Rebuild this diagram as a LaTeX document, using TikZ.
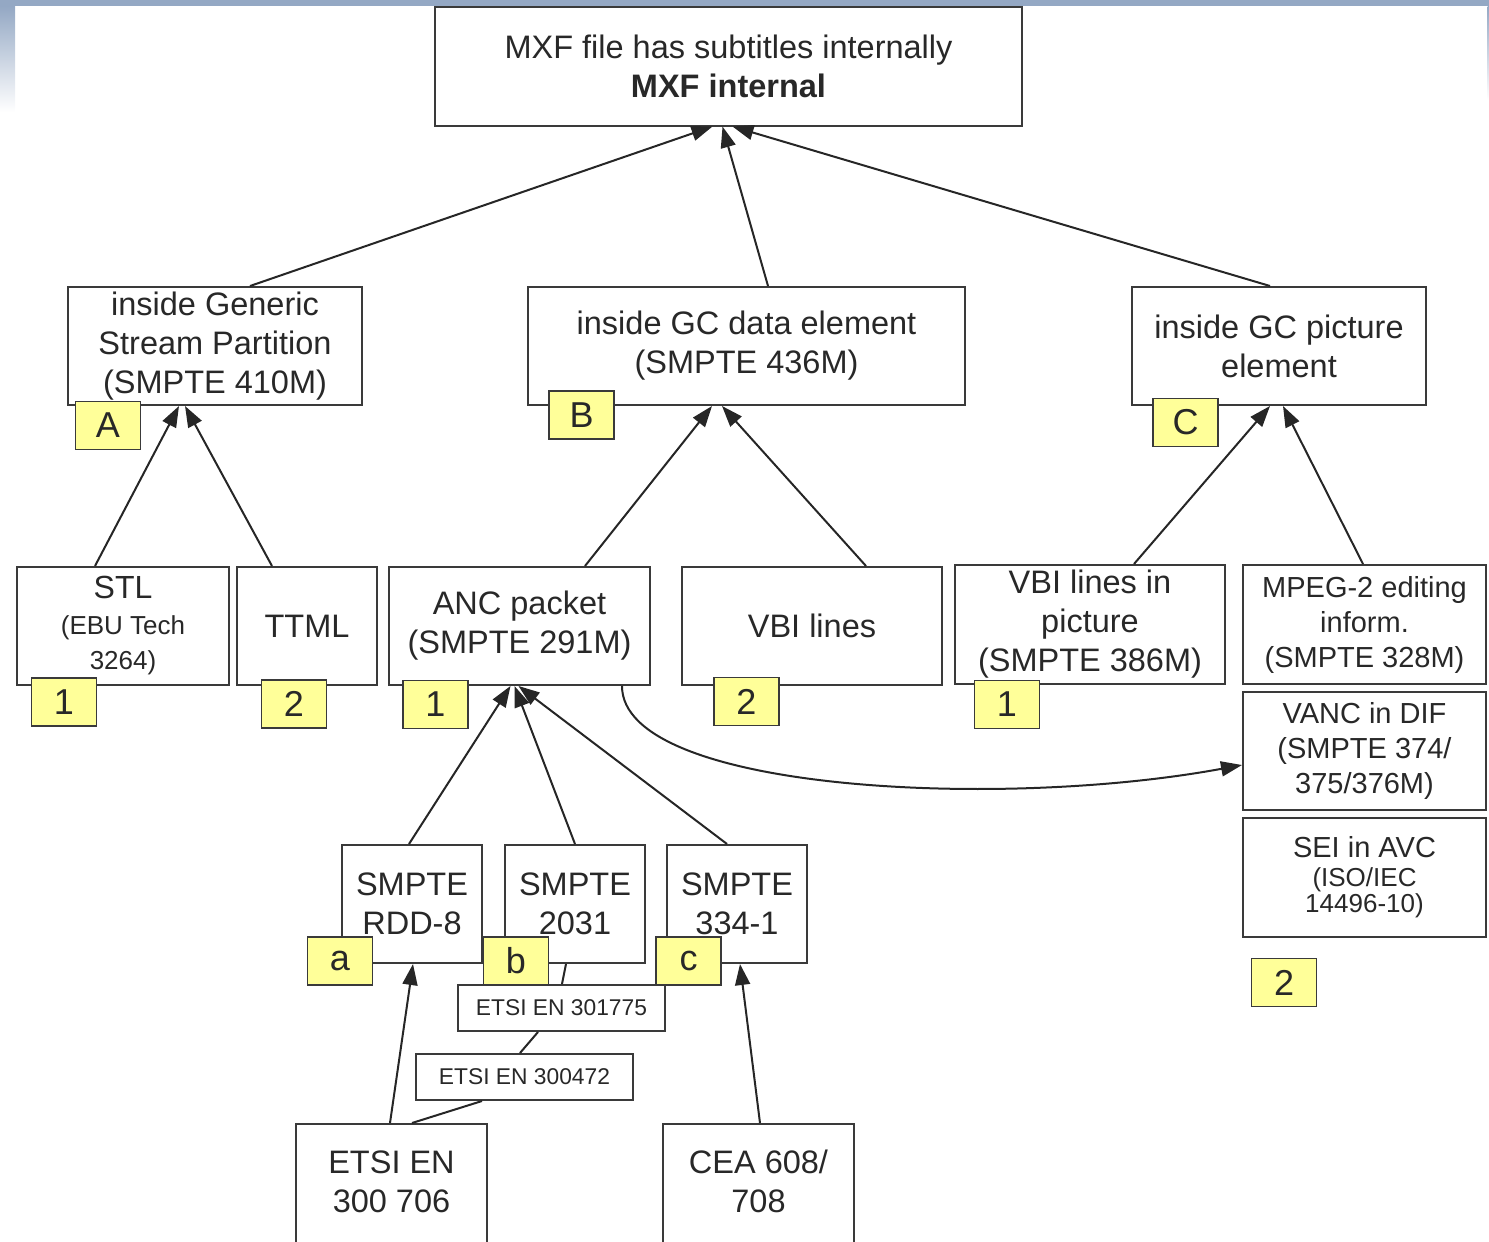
\documentclass[tikz,border=0pt]{standalone}
\usepackage{fontspec}
\setmainfont{Liberation Sans}
\usetikzlibrary{arrows.meta,calc}
\definecolor{bandc}{RGB}{148,168,196}
\definecolor{edgec}{RGB}{58,58,58}
\definecolor{txtc}{RGB}{40,40,40}
\definecolor{tagfill}{RGB}{255,255,153}
\tikzset{
  box/.style={draw=edgec, line width=2pt, fill=white, rectangle, inner sep=0pt,
    align=center, text=txtc, font=\fontsize{32.5}{39}\selectfont},
  rcol/.style={box, minimum width=243pt, font=\fontsize{29}{35}\selectfont},
  etsi/.style={box, minimum height=46pt, font=\fontsize{22.8}{26}\selectfont},
  plain/.style={inner sep=0pt, align=center, text=txtc, font=\fontsize{32.5}{39}\selectfont},
  tag/.style={draw=edgec, line width=1.8pt, fill=tagfill, rectangle, inner sep=0pt,
    minimum width=65pt, minimum height=48pt, text=txtc, font=\fontsize{36}{36}\selectfont},
  arr/.style={draw=black!85, line width=2pt, -{Triangle[length=21pt,width=15pt]}},
  link/.style={draw=black!85, line width=2pt},
}
\begin{document}
\begin{tikzpicture}[x=1pt,y=-1pt]
\useasboundingbox (0,0) rectangle (1489,1242);
\clip (0,0) rectangle (1489,1242);

% window frame
\fill[bandc] (0,0) rectangle (1489,6);
\shade[top color=bandc, bottom color=white] (0,6) rectangle (15,112);
\shade[top color=bandc, bottom color=white] (1487.5,6) rectangle (1489,100);

% root
\node[box, minimum width=587pt, minimum height=119pt] (top) at (728.5,66)
  {MXF file has subtitles internally\\\textbf{MXF internal}};

% containers
\node[box, minimum width=294pt, minimum height=118pt] (gsp) at (215,346)
  {inside Generic\\Stream Partition\\(SMPTE 410M)};
\node[box, minimum width=437pt, minimum height=118pt] (gcd) at (746.5,346)
  {inside GC data element\\(SMPTE 436M)};
\node[box, minimum width=294pt, minimum height=118pt] (gcp) at (1279,346)
  {inside GC picture\\element};

% carriage formats
\node[box, minimum width=212pt, minimum height=118pt, font=\fontsize{26}{35.5}\selectfont] (stl) at (123,626)
  {{\fontsize{32}{35}\selectfont STL}\\(EBU Tech\\3264)};
\node[box, minimum width=140pt, minimum height=118pt] (ttml) at (307,626) {TTML};
\node[box, minimum width=261pt, minimum height=118pt] (anc) at (519.5,626)
  {ANC packet\\(SMPTE 291M)};
\node[box, minimum width=260pt, minimum height=118pt] (vbi) at (812,626) {VBI lines};
\node[box, minimum width=270pt, minimum height=119pt] (vbip) at (1090,624.5)
  {VBI lines in\\picture\\(SMPTE 386M)};
\node[rcol, minimum height=119pt] (mpeg) at (1364.5,624.5)
  {MPEG-2 editing\\inform.\\(SMPTE 328M)};
\node[rcol, minimum height=118pt] (vanc) at (1364.5,751)
  {VANC in DIF\\(SMPTE 374/\\375/376M)};
\node[rcol, minimum height=119pt, font=\fontsize{26}{26}\selectfont] (sei) at (1364.5,877.5)
  {{\fontsize{29}{26}\selectfont SEI in AVC}\\[3pt](ISO/IEC\\14496-10)};

% ANC payload standards
\node[box, minimum width=140pt, minimum height=118pt] (rdd) at (412,904) {SMPTE\\RDD-8};
\node[box, minimum width=140pt, minimum height=118pt] (s2031) at (575,904) {SMPTE\\2031};
\node[box, minimum width=140pt, minimum height=118pt] (s334) at (737,904) {SMPTE\\334-1};
\node[etsi, minimum width=207pt] (e301) at (561.5,1008) {ETSI EN 301775};
\node[etsi, minimum width=217pt] (e300) at (524.5,1077) {ETSI EN 300472};

% source formats (boxes run past the lower edge)
\node[box, minimum width=191pt, minimum height=126pt] (e706) at (391.5,1187) {};
\node[plain] (e706t) at (391.5,1181.5) {ETSI EN\\300 706};
\node[box, minimum width=191pt, minimum height=126pt] (cea) at (758.5,1187) {};
\node[plain] (ceat) at (758.5,1181.5) {CEA 608/\\708};

% connectors to the root
\draw[arr] ([xshift=35pt]gsp.north) -- ([xshift=-16pt]top.south);
\draw[arr] ([xshift=21.5pt]gcd.north) -- ([xshift=-6pt]top.south);
\draw[arr] ([xshift=-9pt]gcp.north) -- ([xshift=4pt]top.south);

% connectors to the containers
\draw[arr] ([xshift=-28pt]stl.north) -- ([xshift=-36pt]gsp.south);
\draw[arr] ([xshift=-35pt]ttml.north) -- ([xshift=-30pt]gsp.south);
\draw[arr] ([xshift=65.5pt]anc.north) -- ([xshift=-34.5pt]gcd.south);
\draw[arr] ([xshift=54pt]vbi.north) -- ([xshift=-24.5pt]gcd.south);
\draw[arr] ([xshift=44pt]vbip.north) -- ([xshift=-9pt]gcp.south);
\draw[arr] ([xshift=-1.5pt]mpeg.north) -- ([xshift=4pt]gcp.south);

% connectors to the ANC packet
\draw[arr] ([xshift=-3pt]rdd.north) -- ([xshift=-9pt]anc.south);
\draw[arr] (s2031.north) -- ([xshift=-5pt]anc.south);
\draw[arr] ([xshift=-10pt]s334.north) -- ([xshift=-1pt]anc.south);
\draw[arr] ([xshift=102.5pt]anc.south)
  .. controls ($(anc.south)+(102.5,105)$) and ($(vanc.west)+(-243,59)$)
  .. ([yshift=-14pt]vanc.west);

% lower connectors
\draw[arr] ([xshift=-1.5pt]e706.north) -- ([xshift=1pt]rdd.south);
\draw[arr] ([xshift=1.5pt]cea.north) -- ([xshift=3pt]s334.south);
\draw[link] ([xshift=20.5pt]e706.north) -- ([xshift=-42.5pt]e300.south);
\draw[link] ([xshift=-4.5pt]e300.north) -- ([xshift=-23.5pt]e301.south);
\draw[link] ([xshift=0.5pt]e301.north) -- ([xshift=-9pt]s2031.south);

% category tags
\node[tag] (tA) at (108,425.5) {A};
\node[tag] (tB) at (581.5,415) {B};
\node[tag] (tC) at (1185.5,422.5) {C};
\node[tag] (t1s) at (64,702) {1};
\node[tag] (t2t) at (294,704) {2};
\node[tag] (t1a) at (435.5,704.5) {1};
\node[tag] (t2v) at (746.5,701.5) {2};
\node[tag] (t1p) at (1007,704.5) {1};
\node[tag] (t2r) at (1284,982.5) {2};
\node[tag] (ta) at (340,961) {a};
\node[tag] (tb) at (516,961) {b};
\node[tag] (tc) at (688.5,961) {c};
\end{tikzpicture}
\end{document}
